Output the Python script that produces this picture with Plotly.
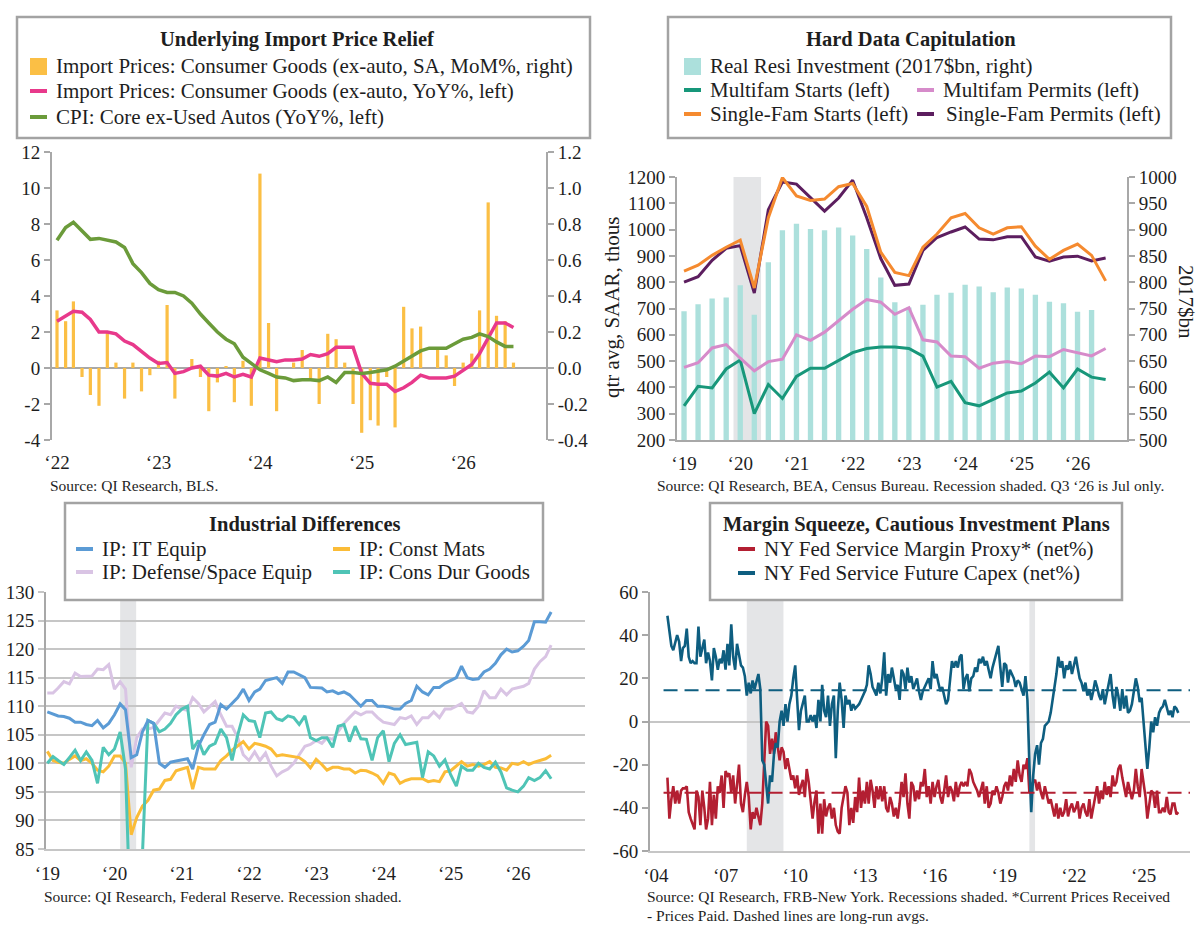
import pandas as pd
import plotly.graph_objects as go

W, H = 1200, 951
FONT = "Liberation Serif"
INK = "#1e1e1e"
AXIS_GREY = "#a8a8a8"
GRID_GREY = "#c6c6c6"
SHADE = "#e4e5e7"

# ---------------- Underlying Import Price Relief (monthly, Jan 2022 - Jul 2026)
tl_months = pd.date_range("2022-01-01", periods=55, freq="MS")
import_mom = [0.32, 0.26, 0.37, -0.05, -0.15, -0.21, 0.20, 0.03, -0.17, 0.03, -0.13, -0.04,
              0.04, 0.35, -0.17, 0.00, 0.05, -0.05, -0.24, -0.08, 0.01, -0.19, 0.04, -0.21,
              1.08, 0.25, -0.24, 0.00, 0.03, 0.10, -0.06, -0.20, 0.19, 0.16, 0.03, -0.20,
              -0.36, -0.29, -0.32, -0.05, -0.33, 0.34, 0.22, 0.23, 0.00, 0.10, 0.07, -0.10,
              0.03, 0.08, 0.32, 0.92, 0.29, 0.26, 0.03]
import_yoy = [2.6, 2.9, 3.15, 3.1, 2.7, 2.0, 2.0, 1.9, 1.5, 1.3, 0.9, 0.55,
              0.25, 0.3, -0.3, -0.2, 0.0, 0.1, -0.4, -0.45, -0.3, -0.5, -0.35, -0.5,
              0.55, 0.45, 0.35, 0.45, 0.45, 0.5, 0.75, 0.65, 0.8, 1.15, 1.15, 1.15,
              -0.3, -0.85, -0.9, -0.9, -1.3, -1.1, -0.8, -0.4, -0.55, -0.55, -0.55, -0.45,
              -0.1, 0.2, 0.8, 1.7, 2.5, 2.5, 2.25]
core_ex_autos = [7.1, 7.8, 8.1, 7.6, 7.15, 7.2, 7.1, 7.0, 6.7, 5.8, 5.3, 4.7,
                 4.35, 4.2, 4.2, 4.0, 3.6, 3.0, 2.5, 2.0, 1.6, 1.35, 0.6, 0.25,
                 -0.1, -0.3, -0.5, -0.55, -0.7, -0.65, -0.65, -0.7, -0.5, -0.8, -0.25, -0.25,
                 -0.3, -0.25, -0.2, -0.1, 0.1, 0.4, 0.7, 0.95, 1.1, 1.1, 1.1, 1.35,
                 1.6, 1.7, 1.9, 1.75, 1.45, 1.2, 1.2]
tl_years = [2022, 2023, 2024, 2025, 2026]
tl_left_ticks = [-4, -2, 0, 2, 4, 6, 8, 10, 12]
tl_right_ticks = [-0.4, -0.2, 0.0, 0.2, 0.4, 0.6, 0.8, 1.0, 1.2]

# ---------------- Hard Data Capitulation (quarterly, 2019Q1 - 2026Q3)
tr_quarters = pd.period_range("2019Q1", "2026Q3", freq="Q")
resi_investment = [745, 758, 769, 771, 794, 738, 838, 899, 911, 901, 899, 904, 889, 863, 809,
                   762, 752, 757, 776, 780, 795, 792, 781, 790, 788, 776, 763, 760, 744, 747]
multifam_starts = [330, 404, 398, 470, 504, 300, 411, 358, 442, 473, 473, 504, 532, 548, 554, 554,
                   548, 519, 401, 423, 342, 330, 354, 379, 386, 417, 458, 398, 470, 439, 430]
multifam_permits = [476, 494, 550, 563, 511, 463, 498, 507, 600, 579, 610, 653, 697, 734, 724, 678,
                    703, 581, 573, 519, 517, 473, 492, 498, 490, 519, 517, 544, 532, 520, 548]
singlefam_starts = [842, 865, 902, 933, 960, 778, 1045, 1198, 1128, 1111, 1116, 1163, 1175, 1088, 914, 837,
                    825, 933, 983, 1045, 1061, 1007, 983, 1007, 1011, 937, 887, 921, 945, 902, 805]
singlefam_permits = [800, 821, 883, 929, 939, 759, 1076, 1181, 1173, 1120, 1070, 1120, 1188, 1045, 890, 788,
                     793, 921, 970, 991, 1010, 964, 961, 973, 973, 896, 880, 896, 899, 881, 892]
tr_years = [2019, 2020, 2021, 2022, 2023, 2024, 2025, 2026]
tr_recession = (2019.88, 2020.37)

# ---------------- Industrial Differences (monthly, Jan 2019 - Jul 2026)
bl_months = pd.date_range("2019-01-01", periods=91, freq="MS")
ip_it_equip = [109.0, 108.6, 108.3, 108.2, 107.9, 107.2, 107.2, 106.8, 106.6, 107.5, 106.2, 107.0,
               108.5, 110.4, 109.4, 101.0, 101.5, 105.5, 107.5, 107.0, 100.0, 99.3, 100.2, 100.4,
               100.6, 100.8, 99.0, 103.0, 105.0, 106.8, 107.2, 110.3, 109.5, 110.5, 111.5, 113.0,
               111.0, 112.5, 113.0, 114.5, 114.8, 115.0, 114.0, 116.0, 116.0, 115.5, 115.0, 113.3,
               113.3, 113.2, 112.5, 112.7, 112.2, 112.5, 112.0, 111.0, 110.0, 111.0, 111.0, 110.0,
               110.0, 109.8, 109.5, 109.5, 110.5, 111.0, 113.5, 112.5, 112.0, 113.3, 113.3, 114.0,
               114.5, 115.0, 117.0, 115.0, 114.7, 114.8, 116.0, 116.5, 117.5, 119.0, 120.0, 119.5,
               119.7, 120.5, 121.5, 124.8, 124.8, 124.7, 126.5]
ip_defense_space = [112.3, 112.3, 113.2, 114.3, 113.9, 115.8, 115.2, 115.3, 115.3, 116.5, 116.4, 117.3,
                    113.0, 114.3, 113.0, 99.3, 104.5, 106.0, 106.0, 106.3, 107.5, 108.8, 108.5, 110.0,
                    109.5, 109.3, 111.5, 110.5, 109.0, 110.0, 110.8, 108.5, 106.5, 106.5, 104.5, 101.5,
                    100.5, 102.0, 100.5, 101.8, 99.5, 97.8, 98.5, 99.0, 100.0, 101.5, 103.0, 103.3,
                    104.0, 103.5, 104.5, 104.2, 105.5, 107.0, 108.0, 109.0, 108.5, 109.0, 109.0, 108.0,
                    107.2, 107.0, 106.8, 108.0, 107.8, 108.3, 106.8, 108.0, 108.0, 109.0, 108.0, 109.5,
                    109.5, 110.0, 110.5, 109.0, 108.8, 110.0, 112.7, 111.5, 111.5, 113.0, 112.0, 113.0,
                    113.3, 113.5, 114.0, 116.5, 117.8, 118.7, 120.7]
ip_const_mats = [102.1, 100.5, 100.2, 100.0, 100.7, 101.3, 100.5, 100.8, 100.0, 98.8, 98.5, 99.5,
                 101.3, 101.3, 100.0, 87.5, 90.5, 92.5, 93.5, 95.3, 95.5, 97.0, 97.2, 98.7,
                 99.0, 99.3, 95.5, 99.3, 99.0, 99.0, 99.0, 100.5, 101.3, 102.3, 103.0, 103.8,
                 102.5, 103.5, 103.3, 103.0, 102.5, 101.3, 101.5, 101.3, 101.2, 101.0, 100.3, 99.2,
                 100.7, 99.8, 98.8, 99.3, 99.3, 99.0, 99.0, 98.3, 98.8, 98.7, 98.3, 97.8,
                 96.5, 98.3, 98.0, 96.5, 97.0, 97.3, 97.3, 97.3, 96.8, 97.0, 96.8, 98.5,
                 98.7, 99.5, 100.3, 99.5, 99.8, 99.5, 99.8, 100.3, 99.3, 99.2, 98.8, 100.0,
                 99.8, 100.3, 99.8, 100.2, 100.5, 100.8, 101.4]
ip_cons_dur = [100.0, 101.2, 100.5, 99.8, 101.0, 102.3, 100.5, 102.0, 100.5, 96.5, 102.8, 101.5,
               102.5, 105.5, 99.0, 68.0, 75.0, 84.0, 107.5, 107.0, 105.5, 106.0, 107.0, 108.5,
               109.5, 110.0, 102.5, 104.0, 101.5, 103.0, 103.5, 106.0, 104.5, 100.5, 105.0, 108.5,
               107.5, 107.3, 104.5, 108.8, 109.0, 107.8, 107.5, 108.3, 108.0, 106.8, 108.3, 104.5,
               104.0, 104.5, 104.5, 102.8, 106.5, 106.8, 103.8, 106.5, 104.3, 104.2, 100.5, 104.5,
               105.7, 100.3, 103.5, 105.0, 103.3, 103.5, 103.7, 97.5, 102.0, 101.3, 99.5, 100.6,
               98.0, 96.0, 99.5, 98.8, 98.8, 100.0, 99.3, 99.0, 100.2, 98.5, 95.7, 95.3,
               95.0, 96.0, 97.5, 97.0, 97.5, 98.7, 97.3]
bl_years = [2019, 2020, 2021, 2022, 2023, 2024, 2025, 2026]
bl_recession = ("2020-02-01", "2020-04-28")

# ---------------- Margin Squeeze (monthly, Jul 2004 - Jul 2026)
br_months = pd.date_range("2004-07-01", periods=265, freq="MS")
margin_proxy = [-26, -45, -36, -30, -38, -32,
                -38, -32, -31, -31, -30, -42, -45, -48, -50, -32, -35, -48,
                -32, -40, -50, -45, -28, -48, -34, -45, -30, -33, -25, -40,
                -23, -25, -24, -33, -25, -38, -28, -20, -38, -42, -34, -28,
                -35, -50, -42, -45, -40, -45, -48, -38, -20, 0, -2, -15,
                -8, -15, -5, -12, -18, -12, -14, -22, -17, -22, -27, -25,
                -31, -25, -34, -30, -27, -35, -22, -28, -37, -45, -37, -32,
                -52, -38, -52, -36, -44, -40, -38, -45, -40, -48, -51, -52,
                -40, -35, -30, -33, -48, -40, -47, -35, -42, -26, -40, -32,
                -38, -28, -38, -27, -32, -40, -30, -36, -30, -37, -30, -40,
                -42, -35, -38, -44, -40, -45, -38, -28, -35, -24, -38, -45,
                -28, -30, -37, -32, -36, -28, -30, -22, -35, -30, -38, -28,
                -35, -30, -27, -35, -38, -32, -25, -35, -30, -32, -37, -28,
                -35, -30, -28, -30, -28, -30, -22, -24, -28, -30, -32, -35,
                -32, -28, -38, -30, -40, -38, -32, -34, -30, -33, -38, -35,
                -30, -28, -32, -25, -30, -22, -28, -18, -25, -28, -20, -22,
                -17, -33, -30, -28, -27, -32, -28, -33, -36, -30, -34, -38,
                -36, -40, -44, -38, -45, -40, -44, -42, -36, -44, -40, -38,
                -42, -40, -37, -45, -40, -38, -42, -44, -36, -45, -40, -35,
                -30, -38, -32, -36, -28, -34, -30, -35, -25, -30, -28, -22,
                -20, -26, -30, -35, -28, -32, -36, -32, -22, -30, -35, -22,
                -28, -35, -45, -38, -32, -33, -40, -32, -42, -42, -40, -42,
                -35, -42, -43, -38, -38, -43, -42]
future_capex = [49, 42, 35, 33, 36, 40,
                37, 28, 34, 35, 43, 30, 27, 28, 27, 27, 44, 30,
                34, 38, 27, 32, 28, 19, 34, 30, 24, 29, 27, 33,
                24, 36, 26, 45, 30, 24, 36, 30, 26, 25, 21, 12,
                18, 13, 19, 15, 19, 22, 15, -18, -20, -30, -38, -25,
                -28, -15, -10, -12, 0, 5, -2, 8, 0, 8, 12, 20,
                26, 10, -4, 5, 8, 12, 0, 0, 3, 0, 3, -3,
                10, 0, 17, 5, 2, 12, -2, 8, 12, -17, 5, 18,
                10, -3, 12, 8, 10, 5, 8, 6, 7, 8, 10, 12,
                14, 17, 26, 22, 16, 14, 12, 18, 13, 20, 32, 12,
                22, 18, 25, 20, 15, 17, 10, 24, 22, 15, 25, 18,
                21, 15, 17, 20, 14, 10, 14, 16, 18, 20, 15, 28,
                20, 22, 18, 14, 16, 12, 8, 10, 18, 28, 25, 28,
                25, 30, 31, 15, 20, 22, 14, 20, 21, 25, 23, 29,
                27, 30, 26, 28, 24, 20, 25, 28, 32, 35, 25, 16,
                27, 26, 18, 24, 22, 20, 16, 19, 18, 15, 12, 21,
                10, -20, -42, -25, -15, -11, -20, -10, -8, -2, -1, 0,
                4, 10, 16, 22, 30, 25, 28, 20, 26, 24, 28, 22,
                26, 30, 25, 20, 18, 14, 18, 12, 15, 10, 14, 19,
                16, 12, 10, 15, 8, 13, 17, 22, 12, 6, 16, 12,
                5, 15, 6, 12, 4, 5, 8, 14, 20, 16, 9, 11,
                0, -12, -22, -12, 0, -5, 2, -2, 4, 6, 7, 10,
                6, 3, 5, 2, 7, 6, 4]
margin_avg = -33
capex_avg = 14.5
br_years = [2004, 2007, 2010, 2013, 2016, 2019, 2022, 2025]
br_left_ticks = [-60, -40, -20, 0, 20, 40, 60]
br_recessions = [("2007-12-01", "2009-06-30"), ("2020-02-01", "2020-04-30")]

# colours
C_BAR_IMP, C_PINK, C_GREEN = "#fbbf45", "#e8398b", "#6b9b3a"
C_BAR_RESI, C_MF_ST, C_MF_PM, C_SF_ST, C_SF_PM = "#ace0dc", "#17977a", "#d68bca", "#f58a2f", "#5c1e5f"
C_IT, C_DEF, C_CM, C_CD = "#5b9bd5", "#d9c4e4", "#fbbc37", "#4fc4b6"
C_RED, C_BLUE = "#b31f32", "#0e5e80"


def px(x):
    return x / W


def py(y):
    return 1 - y / H


def yr(y):
    return "\u2018" + str(y)[-2:]


def num(v):
    return ("%.1f" % v) if isinstance(v, float) else str(v)


fig = go.Figure()

# panel 1
fig.add_trace(go.Bar(x=tl_months, y=import_mom, marker_color=C_BAR_IMP, width=1.0e9,
                     xaxis="x", yaxis="y", showlegend=False))
fig.add_trace(go.Scatter(x=tl_months, y=import_yoy, mode="lines", line=dict(color=C_PINK, width=3.5),
                         xaxis="x", yaxis="y2", showlegend=False))
fig.add_trace(go.Scatter(x=tl_months, y=core_ex_autos, mode="lines", line=dict(color=C_GREEN, width=3.5),
                         xaxis="x", yaxis="y2", showlegend=False))

# panel 2
tr_x = [q.year + (q.quarter - 1) / 4 for q in tr_quarters]
fig.add_trace(go.Bar(x=tr_x[:len(resi_investment)], y=resi_investment, marker_color=C_BAR_RESI,
                     width=0.095, xaxis="x3", yaxis="y3", showlegend=False))
for series, color in [(multifam_starts, C_MF_ST), (multifam_permits, C_MF_PM),
                      (singlefam_permits, C_SF_PM), (singlefam_starts, C_SF_ST)]:
    fig.add_trace(go.Scatter(x=tr_x, y=series, mode="lines", line=dict(color=color, width=3),
                             xaxis="x3", yaxis="y4", showlegend=False))

# panel 3
for series, color in [(ip_defense_space, C_DEF), (ip_const_mats, C_CM), (ip_cons_dur, C_CD), (ip_it_equip, C_IT)]:
    fig.add_trace(go.Scatter(x=bl_months, y=series, mode="lines", line=dict(color=color, width=3),
                             xaxis="x5", yaxis="y5", showlegend=False))

# panel 4
fig.add_trace(go.Scatter(x=br_months, y=margin_proxy, mode="lines", line=dict(color=C_RED, width=2.6),
                         xaxis="x6", yaxis="y6", showlegend=False))
fig.add_trace(go.Scatter(x=br_months, y=future_capex, mode="lines", line=dict(color=C_BLUE, width=2.6),
                         xaxis="x6", yaxis="y6", showlegend=False))

tick_font = dict(family=FONT, size=19, color=INK)
yline = dict(showline=True, linecolor=AXIS_GREY, linewidth=2, ticks="outside", ticklen=6,
             tickcolor=AXIS_GREY, tickwidth=2, showgrid=False, tickfont=tick_font, automargin=False)
xhidden_ticks = dict(ticks="outside", tickcolor="rgba(0,0,0,0)", showgrid=False, zeroline=False,
                     tickfont=tick_font, automargin=False)

fig.update_layout(
    template="none",
    width=W, height=H, margin=dict(l=0, r=0, t=0, b=0, pad=0, autoexpand=False),
    paper_bgcolor="white", plot_bgcolor="rgba(0,0,0,0)",
    font=dict(family=FONT, color=INK), barmode="overlay",
    # panel 1
    xaxis=dict(domain=[px(52), px(546)], anchor="y", type="date",
               range=["2021-12-14", "2026-10-26"],
               tickvals=[f"{y}-01-01" for y in tl_years], ticktext=[yr(y) for y in tl_years],
               showline=False, ticklen=5, **xhidden_ticks),
    yaxis=dict(domain=[py(440), py(152)], anchor="x", side="right", range=[-0.4, 1.2],
               tickvals=tl_right_ticks, ticktext=[num(v) for v in tl_right_ticks],
               zeroline=True, zerolinecolor=AXIS_GREY, zerolinewidth=2, **yline),
    yaxis2=dict(overlaying="y", anchor="x", side="left", range=[-4, 12],
                tickvals=tl_left_ticks, ticktext=[str(v) for v in tl_left_ticks],
                zeroline=False, **yline),
    # panel 2
    xaxis3=dict(domain=[px(677), px(1127)], anchor="y3", range=[2018.875, 2026.88],
                tickvals=tr_years, ticktext=[yr(y) for y in tr_years],
                showline=True, linecolor=AXIS_GREY, linewidth=2, ticklen=5, **xhidden_ticks),
    yaxis3=dict(domain=[py(440), py(177)], anchor="x3", side="right", range=[500, 1000],
                dtick=50, zeroline=False, **yline),
    yaxis4=dict(overlaying="y3", anchor="x3", side="left", range=[200, 1200], dtick=100,
                zeroline=False, **yline),
    # panel 3
    xaxis5=dict(domain=[px(46), px(585)], anchor="y5", type="date",
                range=["2018-12-25", "2027-01-01"],
                tickvals=[f"{y}-01-01" for y in bl_years], ticktext=[yr(y) for y in bl_years],
                showline=True, linecolor=GRID_GREY, linewidth=2, ticklen=6, **xhidden_ticks),
    yaxis5=dict(domain=[py(849), py(592)], anchor="x5", range=[85, 130], dtick=5,
                showline=True, linecolor=AXIS_GREY, linewidth=2, ticks="outside", ticklen=6,
                tickcolor=GRID_GREY, tickwidth=2, showgrid=True, gridcolor=GRID_GREY, gridwidth=2,
                zeroline=False, tickfont=tick_font, automargin=False),
    # panel 4
    xaxis6=dict(domain=[px(650), px(1190)], anchor="y6", type="date",
                range=["2003-10-01", "2027-01-01"],
                tickvals=[f"{y}-01-01" for y in br_years], ticktext=[yr(y) for y in br_years],
                showline=True, linecolor=GRID_GREY, linewidth=2, ticklen=6, **xhidden_ticks),
    yaxis6=dict(domain=[py(851), py(592)], anchor="x6", range=[-60, 60],
                tickvals=br_left_ticks, ticktext=[str(v) for v in br_left_ticks],
                zeroline=True, zerolinecolor=GRID_GREY, zerolinewidth=2, **yline),
)

shapes = []
# recession shading
shapes.append(dict(type="rect", xref="x3", yref="y3 domain", x0=tr_recession[0], x1=tr_recession[1],
                   y0=0, y1=1, fillcolor=SHADE, line_width=0, layer="below"))
shapes.append(dict(type="rect", xref="x5", yref="y5 domain", x0=bl_recession[0], x1=bl_recession[1],
                   y0=0, y1=1, fillcolor=SHADE, line_width=0, layer="below"))
for a, b in br_recessions:
    shapes.append(dict(type="rect", xref="x6", yref="y6 domain", x0=a, x1=b, y0=0, y1=1,
                       fillcolor=SHADE, line_width=0, layer="below"))
# long-run averages
for val, color in [(capex_avg, C_BLUE), (margin_avg, C_RED)]:
    shapes.append(dict(type="line", xref="x6", yref="y6", x0="2004-05-01", x1="2027-01-01",
                       y0=val, y1=val, line=dict(color=color, width=2, dash="14px,7px")))

annotations = []


def box(x0, y0, x1, y1):
    shapes.append(dict(type="rect", xref="paper", yref="paper", x0=px(x0), x1=px(x1),
                       y0=py(y1), y1=py(y0), fillcolor="white",
                       line=dict(color="#a3a3a3", width=2.5), layer="above"))


def title(x, y, text):
    annotations.append(dict(xref="paper", yref="paper", x=px(x), y=py(y), text="<b>" + text + "</b>",
                            showarrow=False, xanchor="center", yanchor="middle",
                            font=dict(family=FONT, size=20.5, color=INK)))


def item(x, y, text, color, kind="line", tx=None):
    if kind == "line":
        shapes.append(dict(type="line", xref="paper", yref="paper", x0=px(x), x1=px(x + 17),
                           y0=py(y), y1=py(y), line=dict(color=color, width=4), layer="above"))
    else:
        shapes.append(dict(type="rect", xref="paper", yref="paper", x0=px(x), x1=px(x + 17),
                           y0=py(y + 9), y1=py(y - 8), fillcolor=color, line_width=0, layer="above"))
    annotations.append(dict(xref="paper", yref="paper", x=px(tx if tx else x + 24), y=py(y), text=text,
                            showarrow=False, xanchor="left", yanchor="middle",
                            font=dict(family=FONT, size=21, color=INK)))


def note(x, y, text, anchor="left"):
    annotations.append(dict(xref="paper", yref="paper", x=px(x), y=py(y), text=text, showarrow=False,
                            xanchor=anchor, yanchor="middle", font=dict(family=FONT, size=15.5, color=INK)))


def side_title(x, y, text, angle):
    annotations.append(dict(xref="paper", yref="paper", x=px(x), y=py(y), text=text, textangle=angle,
                            showarrow=False, xanchor="center", yanchor="middle",
                            font=dict(family=FONT, size=21, color=INK)))


box(17, 17, 590, 138)
title(297, 40, "Underlying Import Price Relief")
item(30, 66, "Import Prices: Consumer Goods (ex-auto, SA, MoM%, right)", C_BAR_IMP, "rect")
item(30, 91, "Import Prices: Consumer Goods (ex-auto, YoY%, left)", C_PINK)
item(30, 117, "CPI: Core ex-Used Autos (YoY%, left)", C_GREEN)
note(48, 485, "Source: QI Research, BLS.")

box(668, 17, 1171, 138)
title(911, 40, "Hard Data Capitulation")
item(684, 66, "Real Resi Investment (2017$bn, right)", C_BAR_RESI, "rect")
item(684, 90, "Multifam Starts (left)", C_MF_ST)
item(917, 90, "Multifam Permits (left)", C_MF_PM)
item(684, 114, "Single-Fam Starts (left)", C_SF_ST)
item(917, 114, "Single-Fam Permits (left)", C_SF_PM, tx=944)
note(910, 485, "Source: QI Research, BEA, Census Bureau. Recession shaded. Q3 \u201826 is Jul only.", "center")
side_title(612, 308, "qtr avg, SAAR, thous", -90)
side_title(1186, 302, "2017$bn", 90)

box(65, 503, 543, 600)
title(305, 524, "Industrial Differences")
item(76, 549, "IP: IT Equip", C_IT)
item(333, 549, "IP: Const Mats", C_CM)
item(76, 572, "IP: Defense/Space Equip", C_DEF)
item(333, 572, "IP: Cons Dur Goods", C_CD)
note(42, 896, "Source: QI Research, Federal Reserve. Recession shaded.")

box(710, 503, 1122, 600)
title(916, 524, "Margin Squeeze, Cautious Investment Plans")
item(738, 549, "NY Fed Service Margin Proxy* (net%)", C_RED)
item(738, 573, "NY Fed Service Future Capex (net%)", C_BLUE)
note(645, 896, "Source: QI Research, FRB-New York. Recessions shaded. *Current Prices Received")
note(645, 915, "- Prices Paid. Dashed lines are long-run avgs.")

fig.update_layout(shapes=shapes, annotations=annotations)
# the page's default 8px body margin would push the figure off its intended pixel grid
fig.write_html("out.html", config={"displayModeBar": False},
               post_script="document.body.style.margin = '0px';")
